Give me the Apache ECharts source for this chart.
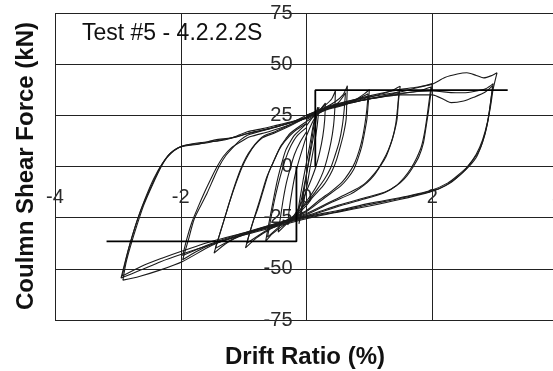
<!DOCTYPE html>
<html>
<head>
<meta charset="utf-8">
<script src="https://cdn.jsdelivr.net/npm/echarts@6/dist/echarts.min.js"></script>
<style>
html,body{margin:0;padding:0;background:#fff;overflow:hidden;}
#c{width:553px;height:371px;}
</style>
</head>
<body>
<div id="c"></div>
<script>
// Axis ticks
const xTicks = [-4, -2, 0, 2, 4];
const yTicks = [-75, -50, -25, 0, 25, 50, 75];

// Bilinear envelope
const envPos = [[0.14,0],[0.14,37.3],[3.2,37.3]];
const envNeg = [[-0.16,0],[-0.16,-36.6],[-3.18,-36.6]];

// Hysteresis cycles (drift %, shear kN)
const loop30a = [[0,24],[0.2,27.5],[0.5,30.5],[0.8,33],[1.0,34.5],[1.3,36.5],[1.5,37.7],[1.8,39],[2.0,40.2],[2.2,43.5],[2.4,45.2],[2.55,45.8],[2.7,44.5],[2.82,43.3],[2.95,44.5],[3.03,45.8],
[2.97,38],[2.93,30],[2.87,20],[2.8,12],[2.71,5],[2.6,0.5],[2.45,-4],[2.29,-8],[2.1,-11],[1.9,-13],[1.5,-16],[1.0,-19.3],[0.5,-22.3],[0,-25.5],[-0.5,-29.5],[-1.0,-33.5],[-1.5,-38],[-2.0,-43],[-2.32,-46.5],[-2.63,-50.5],[-2.95,-54.5],
[-2.88,-46],[-2.82,-39],[-2.72,-29],[-2.61,-19.5],[-2.46,-9],[-2.32,0],[-2.2,5.5],[-2.08,8.5],[-1.95,10.2],[-1.68,11.7],[-1.4,12.5],[-1.2,13.8],[-0.94,17],[-0.7,18.5],[-0.52,19.8],[-0.2,22.2],[0,24]];
const loop30b = [[0,23.5],[0.3,28],[0.7,31],[1.0,33.2],[1.5,35.8],[2.0,36.9],[2.3,36.1],[2.5,36],[2.7,36.9],[2.85,38],[2.97,40.5],
[2.94,34],[2.9,25],[2.84,16],[2.75,8],[2.62,2],[2.48,-3],[2.3,-7.5],[2.13,-10.5],[1.92,-12.5],[1.5,-15.5],[1.0,-18.6],[0.5,-22],[0,-25],[-0.5,-29],[-1.0,-33],[-1.5,-38.5],[-1.97,-46.4],[-2.32,-50.5],[-2.66,-53.7],[-2.92,-55.5],
[-2.87,-47],[-2.8,-39],[-2.7,-29],[-2.59,-19],[-2.45,-9],[-2.3,0.5],[-2.18,6],[-2.05,9],[-1.9,10.5],[-1.6,11.5],[-1.35,13],[-1.1,14.5],[-0.9,16.5],[-0.6,18.5],[-0.3,21],[0,23.5]];
const loop30c = [[0,24],[0.5,30],[1.0,33],[1.5,35],[2.0,35],[2.2,32.5],[2.3,31.2],[2.5,32],[2.66,33.8],[2.85,36.5],[2.96,39.5],
[2.93,32],[2.88,22],[2.8,13],[2.7,6],[2.56,0],[2.4,-4.5],[2.25,-8],[2.0,-11.5],[1.6,-14.5],[1.0,-18],[0.5,-21.5],[0,-24.5],[-0.5,-28.5],[-1.0,-32.5],[-1.5,-36.5],[-2.0,-41.5],[-2.3,-44.8],[-2.63,-48.8],[-2.93,-53.5],
[-2.86,-44],[-2.79,-36],[-2.69,-26],[-2.57,-16],[-2.43,-6],[-2.29,1.5],[-2.15,6.5],[-2.0,9.5],[-1.7,11],[-1.45,13],[-1.2,14],[-0.95,16],[-0.65,18],[-0.35,20.5],[0,24]];
const loop20a = [[0,25],[0.3,29],[0.6,31.5],[1.0,34],[1.3,35.5],[1.5,36.5],[1.8,38.8],[2.0,40.5],
[1.97,34],[1.94,27],[1.9,19],[1.86,11.6],[1.79,5],[1.70,0],[1.6,-4.5],[1.49,-8],[1.35,-11],[1.23,-12.9],[0.9,-16],[0.5,-19.5],[0,-24.5],[-0.5,-28.5],[-1.0,-33],[-1.5,-38],[-1.75,-41.5],[-1.97,-45.6],
[-1.88,-36],[-1.79,-26],[-1.68,-19],[-1.58,-12.9],[-1.48,-6],[-1.39,0],[-1.28,5.5],[-1.15,10],[-1.05,13],[-0.94,15.3],[-0.7,17.5],[-0.45,19.5],[-0.2,22],[0,25]];
const loop20b = [[0,24],[0.3,28],[0.7,31],[1.0,33],[1.5,35.5],[1.8,37],[1.98,38.8],
[1.95,32],[1.92,25],[1.88,17],[1.83,10],[1.75,4],[1.66,-1],[1.55,-5.5],[1.42,-9.5],[1.25,-12.5],[0.9,-15.5],[0.5,-19],[0,-24],[-0.5,-28],[-1.0,-32.5],[-1.5,-37.5],[-1.97,-43.5],
[-1.9,-35],[-1.82,-27],[-1.72,-19.5],[-1.62,-12.5],[-1.52,-6],[-1.43,-0.5],[-1.32,5],[-1.2,9],[-1.05,12],[-0.9,14.5],[-0.6,17],[-0.3,20],[0,24]];
const loop15a = [[0,25],[0.3,28.5],[0.6,31],[0.9,33],[1.2,35.5],[1.35,37],[1.49,39.2],
[1.46,31],[1.44,23],[1.39,16],[1.33,10],[1.26,4.5],[1.17,0],[1.07,-4.5],[0.96,-8],[0.83,-11],[0.7,-13.5],[0.4,-17.5],[0,-23.5],[-0.5,-28.5],[-1.0,-33.5],[-1.25,-37],[-1.47,-42.3],
[-1.4,-35],[-1.33,-28],[-1.26,-21],[-1.16,-11],[-1.05,-1.5],[-0.96,4.5],[-0.86,9.2],[-0.77,12.5],[-0.68,14.9],[-0.5,17],[-0.25,20.5],[0,24]];
const loop15b = [[0,24],[0.3,28],[0.6,30.5],[1.0,33],[1.25,34.5],[1.47,36.5],
[1.45,29],[1.42,21],[1.37,14],[1.3,8],[1.22,3],[1.13,-1.5],[1.02,-5.5],[0.9,-9],[0.7,-12.5],[0.4,-17],[0,-23],[-0.5,-28],[-1.0,-33],[-1.45,-40],
[-1.38,-33],[-1.3,-25],[-1.22,-17],[-1.12,-8],[-1.02,0],[-0.92,6],[-0.82,10.5],[-0.7,14],[-0.5,16.5],[-0.25,20],[0,24]];
const loop10a = [[0,25],[0.3,28],[0.6,30.5],[0.8,33],[0.92,35.5],[1.0,37.5],
[0.98,30],[0.96,23],[0.92,16],[0.88,10],[0.82,4],[0.75,-1.5],[0.65,-6],[0.54,-9.6],[0.3,-15],[0,-22],[-0.3,-26.5],[-0.6,-31],[-0.8,-35],[-0.97,-39.8],
[-0.9,-32],[-0.84,-26],[-0.78,-21],[-0.7,-13],[-0.6,-3],[-0.5,4],[-0.41,10],[-0.33,13.5],[-0.25,16.5],[0,22]];
const loop10b = [[0,23],[0.3,27.5],[0.6,30],[0.85,33.5],[0.98,35.5],
[0.96,28],[0.93,21],[0.89,14],[0.84,8],[0.77,2],[0.68,-3],[0.57,-7.5],[0.4,-12],[0.2,-16.5],[0,-21.5],[-0.3,-26],[-0.6,-30.5],[-0.95,-37.5],
[-0.88,-30],[-0.8,-22],[-0.72,-14],[-0.63,-5],[-0.53,2],[-0.44,8],[-0.34,12.5],[-0.2,17],[0,21]];
const loop065a = [[0,24],[0.25,28],[0.45,31.5],[0.58,35],[0.65,39.5],
[0.64,31],[0.63,23],[0.59,16],[0.54,10],[0.48,3.5],[0.41,-2],[0.33,-6.5],[0.25,-10],[0.1,-15],[0,-19],[-0.2,-25],[-0.4,-29.5],[-0.55,-33],[-0.65,-36.6],
[-0.6,-28],[-0.55,-20],[-0.5,-12],[-0.45,-5],[-0.39,2],[-0.33,8],[-0.26,12],[-0.2,15],[-0.1,18],[0,21]];
const loop065b = [[0,22],[0.25,27],[0.5,31],[0.62,36],
[0.6,28],[0.57,20],[0.52,12],[0.45,5],[0.38,-1],[0.28,-6.5],[0.15,-12],[0,-18],[-0.2,-24],[-0.4,-28.5],[-0.62,-34.5],
[-0.57,-26],[-0.52,-18],[-0.46,-10],[-0.4,-3],[-0.33,4],[-0.25,10],[-0.15,15],[0,19]];
const loop045 = [[0,20],[0.15,26],[0.3,30],[0.4,33],[0.46,37],
[0.45,28],[0.43,20],[0.39,12],[0.33,4],[0.26,-3],[0.17,-9],[0.07,-14],[0,-17],[-0.15,-23],[-0.3,-27.5],[-0.45,-32],
[-0.41,-24],[-0.37,-16],[-0.32,-8],[-0.26,-1],[-0.19,6],[-0.1,12],[0,17]];
const loop030 = [[0,15],[0.1,22],[0.2,27],[0.3,31],
[0.29,23],[0.26,15],[0.21,7],[0.15,0],[0.08,-6],[0,-12],[-0.1,-19],[-0.2,-24],[-0.3,-28.5],
[-0.27,-20],[-0.23,-12],[-0.18,-4],[-0.12,3],[-0.06,9],[0,15]];
const loop015a = [[-0.16,-26],[-0.1,-15],[-0.05,-6],[0,2],[0.05,10],[0.1,19],[0.15,26],[0.18,29],
[0.14,20],[0.09,11],[0.04,3],[-0.01,-5],[-0.06,-13],[-0.11,-20],[-0.16,-26]];
const loop015b = [[-0.12,-28],[-0.07,-18],[-0.02,-8],[0.03,2],[0.08,12],[0.13,22],[0.2,29],
[0.17,20],[0.12,10],[0.06,0],[0.01,-9],[-0.05,-18],[-0.12,-28]];

const cycles = [loop015a, loop015b, loop030, loop045, loop065a, loop065b, loop10a, loop10b,
                loop15a, loop15b, loop20a, loop20b, loop30a, loop30b, loop30c];

const FONT = "'Liberation Sans', Arial, Helvetica, sans-serif";
const W = 553, H = 371;
const G = {left: 55, top: 13, right: -5, bottom: 51};
const plotW = W - G.left - G.right, plotH = H - G.top - G.bottom;
// axes drawn through the origin, as in the original
const xAxisOffset = -plotH * (0 - yTicks[0]) / (yTicks[yTicks.length - 1] - yTicks[0]);
const yAxisOffset = -plotW * (0 - xTicks[0]) / (xTicks[xTicks.length - 1] - xTicks[0]);

const chart = echarts.init(document.getElementById('c'), null, {renderer: 'canvas'});

const series = cycles.map(function (d) {
  return {
    type: 'line', data: d, showSymbol: false, symbol: 'none', smooth: 0.25,
    lineStyle: {color: '#1a1a1a', width: 1.1}, silent: true, z: 3
  };
});
series.push({type: 'line', data: envPos, showSymbol: false, symbol: 'none',
  lineStyle: {color: '#000', width: 1.8}, z: 4, silent: true});
series.push({type: 'line', data: envNeg, showSymbol: false, symbol: 'none',
  lineStyle: {color: '#000', width: 1.8}, z: 4, silent: true});

chart.setOption({
  animation: false,
  backgroundColor: '#fff',
  grid: {left: G.left, top: G.top, right: G.right, bottom: G.bottom, containLabel: false, outerBoundsMode: 'none'},
  xAxis: {
    type: 'value', min: xTicks[0], max: xTicks[xTicks.length - 1], interval: 2,
    position: 'bottom', offset: xAxisOffset,
    axisLine: {show: false, onZero: false},
    axisTick: {show: false},
    splitLine: {show: true, lineStyle: {color: '#222', width: 1}},
    axisLabel: {color: '#2a2a2a', fontSize: 20, fontFamily: FONT, margin: 21,
      formatter: function (v) { return xTicks.indexOf(v) >= 0 ? String(v) : ''; }}
  },
  yAxis: {
    type: 'value', min: yTicks[0], max: yTicks[yTicks.length - 1], interval: 25,
    position: 'left', offset: yAxisOffset,
    axisLine: {show: false, onZero: false},
    axisTick: {show: false},
    splitLine: {show: true, lineStyle: {color: '#222', width: 1}},
    axisLabel: {color: '#2a2a2a', fontSize: 20, fontFamily: FONT, margin: 14,
      formatter: function (v) { return yTicks.indexOf(v) >= 0 ? String(v) : ''; }}
  },
  graphic: [
    {type: 'text', x: 82, y: 34, z: 10,
     style: {text: 'Test #5 - 4.2.2.2S', fill: '#111', font: '23px ' + FONT, textAlign: 'left', textVerticalAlign: 'middle'}},
    {type: 'text', x: 26, y: 166, rotation: Math.PI / 2, z: 10,
     style: {text: 'Coulmn Shear Force (kN)', fill: '#111', font: 'bold 24px ' + FONT, textAlign: 'center', textVerticalAlign: 'middle'}},
    {type: 'text', x: 305, y: 357, z: 10,
     style: {text: 'Drift Ratio (%)', fill: '#111', font: 'bold 24px ' + FONT, textAlign: 'center', textVerticalAlign: 'middle'}}
  ],
  series: series
});
</script>
</body>
</html>
